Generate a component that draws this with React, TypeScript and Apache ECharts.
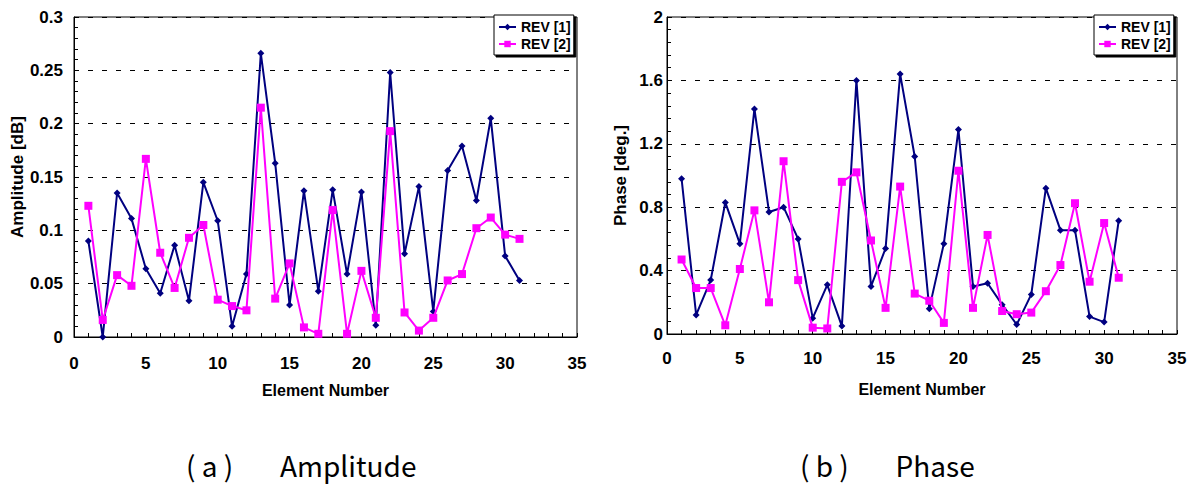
import React, { useEffect, useRef } from "react";
import * as echarts from "echarts";

// ---- data ----
const elements = [1, 2, 3, 4, 5, 6, 7, 8, 9, 10, 11, 12, 13, 14, 15, 16, 17, 18, 19, 20, 21, 22, 23, 24, 25, 26, 27, 28, 29, 30, 31];

const ampRev1 = [0.090, 0.000, 0.135, 0.111, 0.064, 0.041, 0.086, 0.034, 0.145, 0.109, 0.010, 0.059, 0.266, 0.163, 0.030, 0.137, 0.043, 0.138, 0.059, 0.136, 0.011, 0.248, 0.078, 0.141, 0.024, 0.156, 0.179, 0.128, 0.205, 0.076, 0.053];
const ampRev2 = [0.123, 0.016, 0.058, 0.048, 0.167, 0.079, 0.046, 0.093, 0.105, 0.035, 0.029, 0.025, 0.215, 0.036, 0.069, 0.009, 0.003, 0.119, 0.003, 0.062, 0.018, 0.193, 0.023, 0.006, 0.018, 0.053, 0.059, 0.102, 0.112, 0.096, 0.092];

const phaseRev1 = [0.98, 0.12, 0.34, 0.83, 0.57, 1.42, 0.77, 0.80, 0.60, 0.10, 0.31, 0.05, 1.60, 0.30, 0.54, 1.64, 1.12, 0.16, 0.57, 1.29, 0.30, 0.32, 0.185, 0.06, 0.25, 0.92, 0.655, 0.655, 0.11, 0.075, 0.715];
const phaseRev2 = [0.47, 0.29, 0.29, 0.055, 0.41, 0.78, 0.20, 1.09, 0.34, 0.04, 0.035, 0.96, 1.02, 0.59, 0.165, 0.93, 0.255, 0.21, 0.07, 1.03, 0.165, 0.625, 0.145, 0.125, 0.135, 0.27, 0.435, 0.825, 0.33, 0.70, 0.355];

const seriesNames = ["REV [1]", "REV [2]"];
const xRange = { min: 0, max: 35, interval: 5 };
const ampRange = { min: 0, max: 0.3, interval: 0.05 };
const phaseRange = { min: 0, max: 2, interval: 0.4 };
const xTitle = "Element Number";
const ampTitle = "Amplitude [dB]";
const phaseTitle = "Phase [deg.]";
const captions = ["( a )\u3000   Amplitude", "( b )\u3000   Phase"];

const NAVY = "#000080";
const MAGENTA = "#FF00FF";
const FONT = "'Liberation Sans', Arial, sans-serif";

const pair = (ys: number[]) => elements.map((e, i) => [e, ys[i]]);

function xAxis(gridIndex: number, labelMargin: number, nameGap: number) {
  return {
    gridIndex,
    type: "value",
    ...xRange,
    name: xTitle,
    nameLocation: "middle",
    nameGap,
    nameTextStyle: { fontFamily: FONT, fontWeight: "bold", fontSize: 16, color: "#000" },
    axisLine: { show: true, onZero: false, lineStyle: { color: "#000", width: 1 } },
    axisTick: { show: true, inside: true, length: 4, lineStyle: { color: "#000", width: 1 } },
    minorTick: { show: true, splitNumber: 5, length: 4, lineStyle: { color: "#000", width: 1 } },
    axisLabel: { margin: labelMargin, fontFamily: FONT, fontWeight: "bold", fontSize: 17, color: "#000" },
    splitLine: { show: false },
  };
}

function yAxis(gridIndex: number, range: any, name: string, labelMargin: number, nameGap: number) {
  return {
    gridIndex,
    type: "value",
    ...range,
    name,
    nameLocation: "middle",
    nameGap,
    nameTextStyle: { fontFamily: FONT, fontWeight: "bold", fontSize: 17, color: "#000" },
    axisLine: { show: true, onZero: false, lineStyle: { color: "#000", width: 1 } },
    axisTick: { show: true, inside: true, length: 4, lineStyle: { color: "#000", width: 1 } },
    minorTick: { show: true, splitNumber: 5, length: 4, lineStyle: { color: "#000", width: 1 } },
    axisLabel: {
      margin: labelMargin,
      fontFamily: FONT,
      fontWeight: "bold",
      fontSize: 17,
      color: "#000",
      formatter: (v: number) => String(+v.toFixed(3)),
    },
    splitLine: { show: true, lineStyle: { color: "#000", width: 1, type: [5, 9] } },
  };
}

function lineSeries(name: string, idx: number, ys: number[], color: string, symbol: string, size: number, z: number) {
  return {
    name,
    type: "line",
    xAxisIndex: idx,
    yAxisIndex: idx,
    data: pair(ys),
    symbol,
    symbolSize: size,
    showAllSymbol: true,
    lineStyle: { color, width: 2 },
    itemStyle: { color },
    z,
  };
}

function legend(left: number) {
  return {
    data: seriesNames,
    orient: "vertical",
    left,
    top: 15,
    padding: [5, 3, 4, 4],
    itemGap: 3,
    itemWidth: 17,
    itemHeight: 8,
    backgroundColor: "#fff",
    borderColor: "#000",
    borderWidth: 1,
    shadowColor: "#000",
    shadowBlur: 0,
    shadowOffsetX: 2,
    shadowOffsetY: 2,
    selectedMode: false,
    textStyle: { fontFamily: FONT, fontWeight: "bold", fontSize: 14, color: "#000" },
  };
}

export default function App() {
  const ref = useRef<HTMLDivElement>(null);
  useEffect(() => {
    if (!ref.current) return;
    const chart = echarts.init(ref.current, undefined, { renderer: "svg" });
    const capFont = { fontFamily: "'Noto Sans CJK JP', sans-serif", fontSize: 28, fill: "#000", fontWeight: "normal" };
    chart.setOption({
      animation: false,
      backgroundColor: "#fff",
      grid: [
        { left: 74, top: 17, width: 503, height: 320, show: true, borderColor: "#000", borderWidth: 1, backgroundColor: "transparent" },
        { left: 667, top: 17, width: 510, height: 317, show: true, borderColor: "#000", borderWidth: 1, backgroundColor: "transparent" },
      ],
      xAxis: [xAxis(0, 18, 45), xAxis(1, 16, 47)],
      yAxis: [yAxis(0, ampRange, ampTitle, 11, 46), yAxis(1, phaseRange, phaseTitle, 4, 38)],
      legend: [legend(494), legend(1094)],
      series: [
        lineSeries(seriesNames[0], 0, ampRev1, NAVY, "diamond", 7, 2),
        lineSeries(seriesNames[1], 0, ampRev2, MAGENTA, "rect", 8, 3),
        lineSeries(seriesNames[0], 1, phaseRev1, NAVY, "diamond", 7, 2),
        lineSeries(seriesNames[1], 1, phaseRev2, MAGENTA, "rect", 8, 3),
      ],
      graphic: [
        { type: "text", x: 186, y: 465, style: { text: captions[0], ...capFont, textAlign: "left", align: "left", textVerticalAlign: "middle", verticalAlign: "middle" } },
        { type: "text", x: 800, y: 465, style: { text: captions[1], ...capFont, textAlign: "left", align: "left", textVerticalAlign: "middle", verticalAlign: "middle" } },
      ],
    });
    return () => chart.dispose();
  }, []);
  return <div ref={ref} style={{ position: "absolute", left: 0, top: 0, width: 1200, height: 484 }} />;
}
